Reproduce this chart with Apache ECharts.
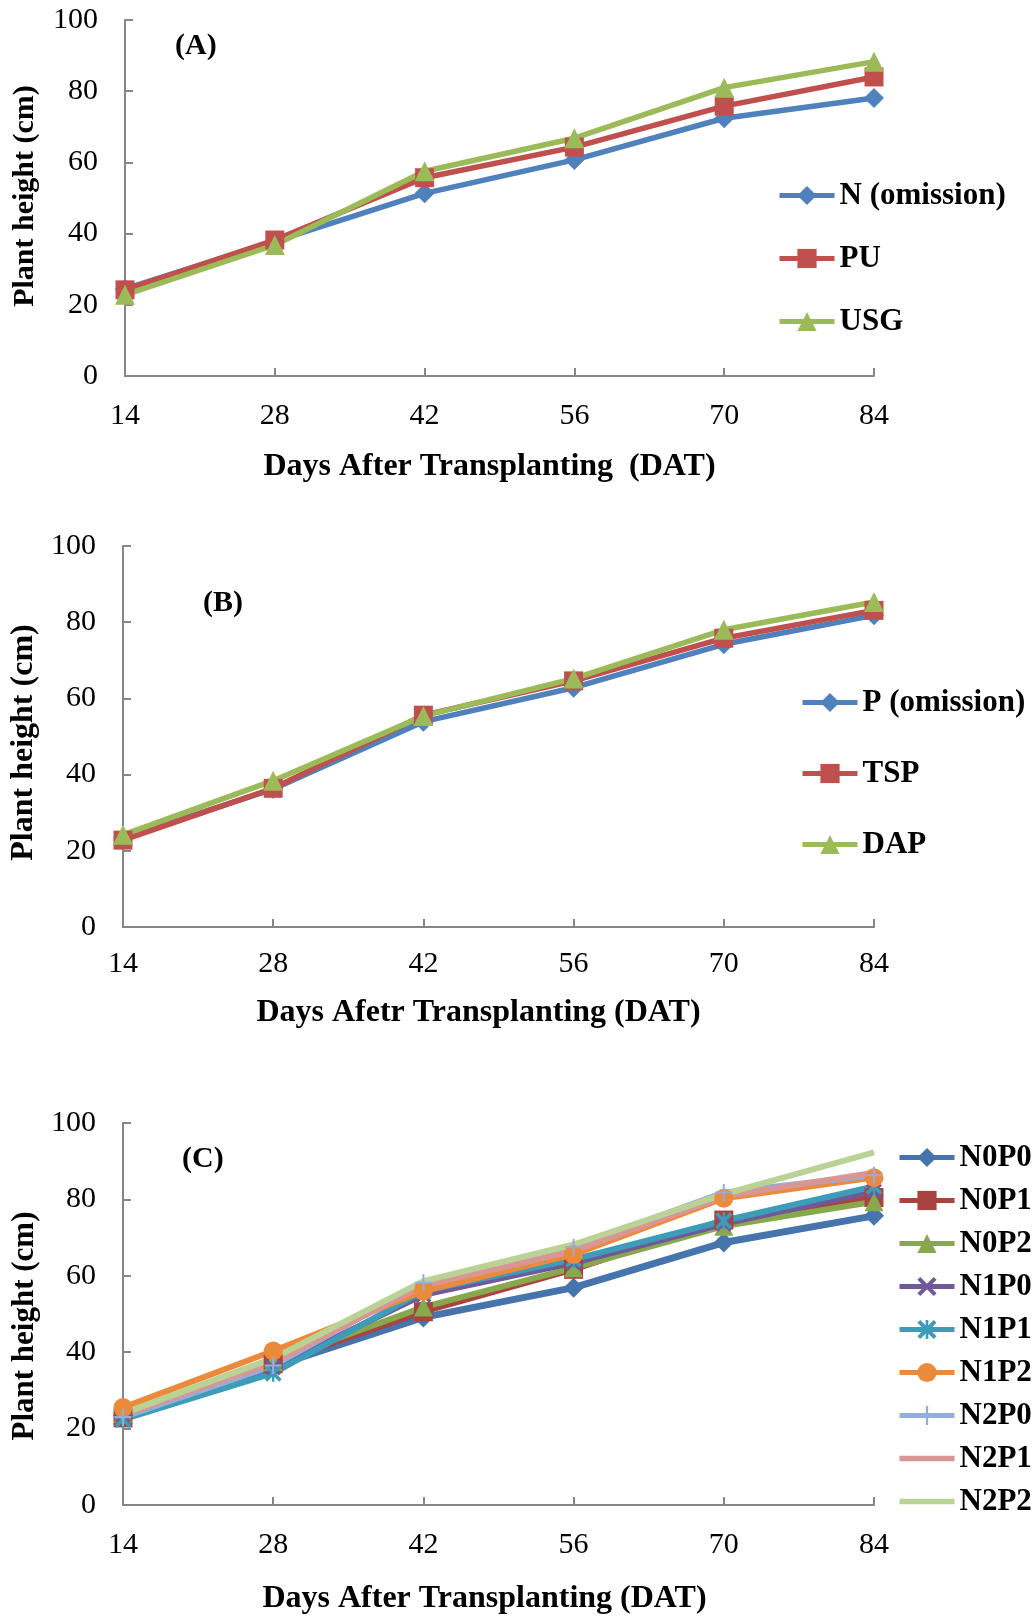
<!DOCTYPE html>
<html><head><meta charset="utf-8">
<script src="https://cdn.jsdelivr.net/npm/echarts@6/dist/echarts.min.js"></script>
<style>html,body{margin:0;padding:0;background:#fff}#c{width:1036px;height:1616px}</style>
</head><body><div id="c"></div>
<script>
// ---- data ----
const days = [14, 28, 42, 56, 70, 84];
const yMin = 0, yMax = 100, yStep = 20;

// Panel A
const namesA = ['N (omission)', 'PU', 'USG'];
const nOmission = [24.5, 37.8, 51.3, 60.7, 72.4, 78.1];
const pu        = [24.2, 38.2, 55.7, 64.3, 75.8, 84.0];
const usg       = [22.8, 36.8, 57.5, 66.8, 81.0, 88.3];

// Panel B
const namesB = ['P (omission)', 'TSP', 'DAP'];
const pOmission = [23.3, 36.2, 53.9, 62.8, 74.2, 81.8];
const tsp       = [22.8, 36.4, 55.6, 64.6, 75.8, 83.1];
const dap       = [24.2, 38.4, 55.4, 65.2, 78.0, 85.3];

// Panel C
const namesC = ['N0P0', 'N0P1', 'N0P2', 'N1P0', 'N1P1', 'N1P2', 'N2P0', 'N2P1', 'N2P2'];
const n0p0 = [23.5, 36.3, 49.1, 56.9, 68.7, 75.7];
const n0p1 = [22.8, 37.0, 50.6, 61.7, 74.6, 80.5];
const n0p2 = [24.0, 37.5, 51.8, 62.1, 73.0, 79.4];
const n1p0 = [23.5, 36.0, 55.0, 63.4, 73.6, 82.2];
const n1p1 = [22.4, 34.5, 56.0, 64.3, 74.4, 83.4];
const n1p2 = [25.5, 40.3, 56.0, 65.6, 80.3, 85.7];
const n2p0 = [23.0, 36.5, 58.2, 67.5, 81.8, 86.3];
const n2p1 = [23.5, 37.3, 57.5, 66.5, 80.8, 87.0];
const n2p2 = [24.0, 38.4, 58.6, 68.2, 81.4, 92.3];

const xAxisTitleA = 'Days After Transplanting  (DAT)';
const xAxisTitleB = 'Days Afetr Transplanting (DAT)';
const xAxisTitleC = 'Days After Transplanting (DAT)';
const yAxisTitle = 'Plant height (cm)';
const panelLabels = ['(A)', '(B)', '(C)'];

// ---- styles ----
const FONT = '"Liberation Serif","Times New Roman",serif';
const AXIS_COLOR = '#868686';
const SYM_X = 'path://M0,1.5 L1.5,0 L10,8.5 L8.5,10 Z M8.5,0 L10,1.5 L1.5,10 L0,8.5 Z';
const SYM_STAR = 'path://M0,1.5 L1.5,0 L10,8.5 L8.5,10 Z M8.5,0 L10,1.5 L1.5,10 L0,8.5 Z M4.3,0 L5.7,0 L5.7,10 L4.3,10 Z';
const SYM_PLUS = 'path://M4.4,0 L5.6,0 L5.6,10 L4.4,10 Z M0,4.4 L10,4.4 L10,5.6 L0,5.6 Z';
// legend icon for series without markers: a plain stroke in the middle of the icon box
const ICON_LINE = 'path://M0,0 L0.01,0 L0.01,0.01 Z M0,9.3 L55,9.3 L55,14.7 L0,14.7 Z M54.99,23.99 L55,23.99 L55,24 Z';

function pairs(vals) { return days.map((d, i) => [d, vals[i]]); }

function xAxis(gi, title, gap, shift, margin) {
  return {
    type: 'value', gridIndex: gi, min: days[0], max: days[days.length - 1], interval: 14,
    axisLine: { lineStyle: { color: AXIS_COLOR, width: 2 } },
    axisTick: { inside: true, length: 8, lineStyle: { color: AXIS_COLOR, width: 2 } },
    axisLabel: { color: '#000', fontFamily: FONT, fontSize: 30, margin: margin },
    splitLine: { show: false },
    name: title, nameLocation: 'middle', nameGap: gap,
    nameTextStyle: { color: '#000', fontFamily: FONT, fontSize: 32, fontWeight: 'bold', padding: [0, shift, 0, 0] }
  };
}
function yAxis(gi, gap, pad, fs) {
  return {
    type: 'value', gridIndex: gi, min: yMin, max: yMax, interval: yStep,
    axisLine: { show: true, lineStyle: { color: AXIS_COLOR, width: 2 } },
    axisTick: { show: true, inside: true, length: 8, lineStyle: { color: AXIS_COLOR, width: 2 } },
    axisLabel: { color: '#000', fontFamily: FONT, fontSize: 30, margin: 27 },
    splitLine: { show: false },
    name: yAxisTitle, nameLocation: 'middle', nameGap: gap,
    nameTextStyle: { color: '#000', fontFamily: FONT, fontSize: fs, fontWeight: 'bold', padding: pad }
  };
}
function line(name, vals, gi, color, symbol, size, width) {
  return {
    type: 'line', name: name, xAxisIndex: gi, yAxisIndex: gi, data: pairs(vals),
    symbol: symbol, symbolSize: size, showSymbol: symbol !== 'none',
    lineStyle: { color: color, width: width },
    itemStyle: { color: color },
    emphasis: { disabled: true }
  };
}
function legend(names, left, top, gap) {
  return {
    orient: 'vertical', left: left, top: top, padding: 0, itemWidth: 55, itemHeight: 24, itemGap: gap,
    selectedMode: false, data: names,
    lineStyle: { width: 5 },
    textStyle: { color: '#000', fontFamily: FONT, fontSize: 31, fontWeight: 'bold', lineHeight: 30 }
  };
}

const colA = ['#4F81BD', '#C0504D', '#9BBB59'];
const colC = ['#4674AD', '#A9433F', '#87A84D', '#71589A', '#3D9DB8', '#EC8A3C', '#93AEDA', '#D99694', '#BBD296'];

const legendC = legend(namesC.map((n, i) => i >= 7 ? { name: n, icon: ICON_LINE } : n), 897, 1142, 12);

const option = {
  animation: false,
  backgroundColor: '#fff',
  grid: [
    { left: 125, top: 20, width: 749, height: 356 },
    { left: 123, top: 546, width: 751, height: 381 },
    { left: 123, top: 1123, width: 751, height: 382 }
  ],
  xAxis: [
    xAxis(0, xAxisTitleA, 75, 20, 25),
    xAxis(1, xAxisTitleB, 70, 40, 22),
    xAxis(2, xAxisTitleC, 78, 28, 25)
  ],
  yAxis: [
    yAxis(0, 85, [0, 0, 0, 4], 30),
    yAxis(1, 74, [0, 12, 0, 0], 32),
    yAxis(2, 81, [0, 24, 0, 0], 31)
  ],
  legend: [
    legend(namesA, 777, 180, 32),
    legend(namesB, 800, 687, 40),
    legendC
  ],
  graphic: [
    { type: 'text', left: 175, top: 31, style: { text: panelLabels[0], font: 'bold 30px ' + FONT, fill: '#000' } },
    { type: 'text', left: 203, top: 588, style: { text: panelLabels[1], font: 'bold 30px ' + FONT, fill: '#000' } },
    { type: 'text', left: 182, top: 1144, style: { text: panelLabels[2], font: 'bold 30px ' + FONT, fill: '#000' } }
  ],
  series: [
    line(namesA[0], nOmission, 0, colA[0], 'diamond', 20, 5.5),
    line(namesA[1], pu, 0, colA[1], 'rect', 19, 5.5),
    line(namesA[2], usg, 0, colA[2], 'triangle', 20, 5.5),
    line(namesB[0], pOmission, 1, colA[0], 'diamond', 20, 5.5),
    line(namesB[1], tsp, 1, colA[1], 'rect', 19, 5.5),
    line(namesB[2], dap, 1, colA[2], 'triangle', 20, 5.5),
    line(namesC[0], n0p0, 2, colC[0], 'diamond', 20, 7),
    line(namesC[1], n0p1, 2, colC[1], 'rect', 19, 6),
    line(namesC[2], n0p2, 2, colC[2], 'triangle', 19, 6),
    line(namesC[3], n1p0, 2, colC[3], SYM_X, 16, 6),
    line(namesC[4], n1p1, 2, colC[4], SYM_STAR, 17, 6),
    line(namesC[5], n1p2, 2, colC[5], 'circle', 19, 6),
    line(namesC[6], n2p0, 2, colC[6], SYM_PLUS, 17, 6),
    line(namesC[7], n2p1, 2, colC[7], 'none', 0, 6),
    line(namesC[8], n2p2, 2, colC[8], 'none', 0, 6)
  ]
};
const chart = echarts.init(document.getElementById('c'), null, { renderer: 'canvas' });
chart.setOption(option);
</script>
</body></html>
